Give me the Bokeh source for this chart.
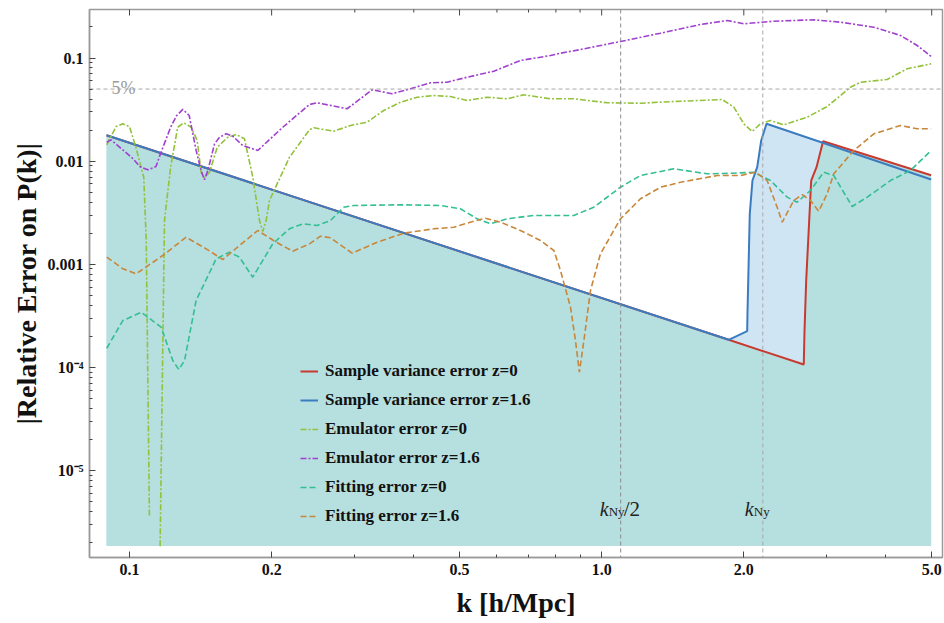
import numpy as np
from bokeh.plotting import figure
from bokeh.models import (Range1d, FixedTicker, CustomJSTickFormatter, Legend,
                          LegendItem, Span)
from bokeh.core.properties import value
from bokeh.embed import file_html
from bokeh.resources import INLINE

# ---------------- data ----------------
# Sample variance error z=0 (red) and z=1.6 (blue)
sv0_k = [0.0894, 1.858, 2.679, 2.689, 2.711, 2.778, 2.851, 2.944, 4.986]
sv0_err = [0.01783, 1.848e-4, 1.064e-4, 2.27e-4, 6.95e-4, 6.48e-3, 8.73e-3, 0.0156, 7.30e-3]
sv16_k = [0.0894, 1.858, 2.033, 2.036, 2.059, 2.086, 2.135, 2.177, 2.234, 4.986]
sv16_err = [0.01783, 1.848e-4, 2.24e-4, 3.30e-4, 3.08e-3, 6.48e-3, 8.73e-3, 0.01584, 0.023, 6.63e-3]

# Emulator error z=1.6 (purple)
emu16_k = [0.0895, 0.0914, 0.1016, 0.1051, 0.1093, 0.1138, 0.1163, 0.1222, 0.1259, 0.1297,
           0.1338, 0.1384, 0.1418, 0.1441, 0.1465, 0.1514, 0.1551, 0.1602, 0.1655, 0.1737,
           0.1869, 0.2112, 0.2405, 0.2497, 0.2891, 0.3266,
           0.3599, 0.3937, 0.4339, 0.4708, 0.5189, 0.5908, 0.673, 0.779, 0.818,
           0.902, 1.096, 1.332, 1.619, 1.845, 2.000, 2.315, 2.813, 3.204, 3.770,
           4.294, 4.658, 4.986]
emu16_err = [0.01525, 0.0161, 0.0106, 0.00887, 0.00823, 0.00887, 0.01177, 0.0213, 0.0277, 0.0317,
             0.0277, 0.01267, 0.0081, 0.00659, 0.0081, 0.01468, 0.01705, 0.0184, 0.01744, 0.01417,
             0.01267, 0.0213, 0.0354, 0.0368, 0.0322, 0.0492,
             0.0450, 0.0503, 0.0575, 0.0582, 0.0651, 0.0745, 0.0946, 0.1057, 0.1113,
             0.1209, 0.1445, 0.174, 0.2113, 0.2310, 0.2147, 0.2275, 0.2347, 0.2225, 0.199,
             0.1653, 0.1322, 0.1034]

# Emulator error z=0 (green); NaN = curve below the plotted range
emu0_k = [0.0895, 0.0937, 0.0968, 0.1000, 0.1033, 0.1072, 0.1085, 0.1102, np.nan, 0.1161,
          0.1186, 0.1222, 0.1265, 0.1303, 0.1351, 0.1391, 0.1418, 0.1441, 0.1477, 0.1534,
          0.1615, 0.1683, 0.1752, 0.1824, 0.1885, 0.1915, 0.1947,
          0.1979, 0.2182, 0.2405, 0.2456, 0.2708, 0.2938, 0.3186, 0.3455, 0.3749,
          0.4068, 0.4410, 0.4785, 0.5189, 0.5721, 0.6307, 0.684, 0.779, 0.873, 1.027,
          1.208, 1.421, 1.800, 1.905, 2.000, 2.083, 2.169, 2.278, 2.431, 2.724, 3.003,
          3.365, 3.532, 4.023, 4.436, 4.986]
emu0_err = [0.01439, 0.02165, 0.023, 0.02165, 0.0133, 0.00698, 0.0017, 3.65e-6, np.nan, 1.84e-6,
            0.00265, 0.00873, 0.0213, 0.0235, 0.0213, 0.01584, 0.0078, 0.00689, 0.0078, 0.01364,
            0.01705, 0.0181, 0.01646, 0.0070, 0.00265, 0.002076, 0.00265,
            0.00415, 0.01091, 0.0201, 0.02104, 0.0195, 0.02215, 0.02384, 0.03096, 0.03726,
            0.04166, 0.04327, 0.04231, 0.0387, 0.04166, 0.0402, 0.04395, 0.0402, 0.0402, 0.0368,
            0.03644, 0.03785, 0.03958, 0.03333, 0.023, 0.01937, 0.023, 0.02476, 0.02249, 0.02666,
            0.03385, 0.05209, 0.0582, 0.0619, 0.0786, 0.0878]

# Fitting error z=0 (teal)
fit0_k = [0.0895, 0.0968, 0.1059, 0.1167, 0.1235, 0.1272, 0.1308, 0.1384, 0.1526, 0.1628,
          0.171, 0.1824, 0.2011, 0.2182, 0.2328, 0.2497, 0.2665, 0.2843, 0.2985, 0.3749,
          0.4556, 0.5023, 0.5447, 0.5814, 0.6307, 0.718, 0.818, 0.873, 0.962, 1.096, 1.208,
          1.421, 1.673, 1.905, 2.099, 2.278, 2.471, 2.594, 2.768, 2.953, 3.101, 3.393,
          3.650, 4.089, 4.508, 4.986]
fit0_err = [1.531e-4, 2.84e-4, 3.42e-4, 2.448e-4, 1.164e-4, 9.52e-5, 1.164e-4, 4.45e-4,
            1.128e-3, 1.307e-3, 1.169e-3, 7.48e-4, 1.577e-3, 2.205e-3, 2.465e-3, 2.373e-3,
            2.654e-3, 3.57e-3, 3.71e-3, 3.77e-3, 3.71e-3, 3.45e-3, 2.756e-3, 2.465e-3,
            2.756e-3, 2.969e-3, 2.969e-3, 2.969e-3, 3.57e-3, 5.58e-3, 7.25e-3, 8.42e-3,
            7.53e-3, 7.63e-3, 7.80e-3, 6.48e-3, 4.47e-3, 3.99e-3, 5.19e-3, 7.80e-3, 7.25e-3,
            3.63e-3, 4.47e-3, 6.48e-3, 8.11e-3, 0.01267]

# Fitting error z=1.6 (orange)
fit16_k = [0.0895, 0.0968, 0.1033, 0.1176, 0.1318, 0.1453, 0.1576, 0.171, 0.1869, 0.2045,
           0.2218, 0.2405, 0.2538, 0.2665, 0.2962, 0.3346, 0.3810, 0.4410, 0.4863, 0.5273,
           0.5674, 0.6104, 0.673, 0.742, 0.792, 0.818, 0.859, 0.880, 0.897, 0.917, 0.947,
           0.994, 1.096, 1.208, 1.332, 1.469, 1.757, 1.968, 2.117, 2.241, 2.353, 2.412,
           2.552, 2.658, 2.768, 2.882, 3.003, 3.101, 3.420, 3.770, 4.294, 4.658, 4.986]
fit16_err = [1.169e-3, 9.03e-4, 8.07e-4, 1.214e-3, 1.827e-3, 1.41e-3, 1.11e-3, 1.518e-3,
             2.123e-3, 1.634e-3, 1.337e-3, 1.577e-3, 1.869e-3, 1.804e-3, 1.279e-3, 1.634e-3,
             2.0e-3, 2.205e-3, 2.285e-3, 2.555e-3, 2.794e-3, 2.555e-3, 2.123e-3, 1.698e-3,
             1.358e-3, 8.69e-4, 3.83e-4, 1.82e-4, 8.96e-5, 1.82e-4, 5.56e-4, 1.262e-3,
             2.756e-3, 4.31e-3, 5.58e-3, 6.24e-3, 7.25e-3, 7.25e-3, 7.80e-3, 6.48e-3,
             3.57e-3, 2.555e-3, 4.15e-3, 4.74e-3, 4.15e-3, 3.27e-3, 4.82e-3, 7.53e-3,
             0.01267, 0.0184, 0.02215, 0.02057, 0.02057]

fill_floor = 1.85e-6
five_percent = 0.05
k_nyquist = 2.194
k_nyquist_half = 1.097

legend_labels = ["Sample variance error z=0", "Sample variance error z=1.6",
                 "Emulator error z=0", "Emulator error z=1.6",
                 "Fitting error z=0", "Fitting error z=1.6"]

x_ticks = [0.1, 0.2, 0.5, 1.0, 2.0, 5.0]
x_tick_labels = ["0.1", "0.2", "0.5", "1.0", "2.0", "5.0"]
x_minor_ticks = [0.3, 0.4, 0.6, 0.7, 0.8, 0.9, 3.0, 4.0]
y_ticks = [1e-5, 1e-4, 1e-3, 1e-2, 1e-1]
y_tick_labels = ["10⁻⁵", "10⁻⁴", "0.001", "0.01", "0.1"]
y_minor_ticks = [m * 10.0 ** d for d in range(-6, 0) for m in range(2, 10)]

# ---------------- styles ----------------
SERIF = "Liberation Serif"
C_TEAL_FILL = "#b6dfdf"
C_BLUE_FILL = "#cfe5f4"
C_RED = "#c8392e"
C_BLUE = "#3b7cc0"
C_GREEN = "#93c23a"
C_PURPLE = "#a040d0"
C_TEALL = "#33bf93"
C_ORANGE = "#c8873a"
FRAME = "#9a9a9a"

y_lo, y_hi = 1.43e-6, 0.2954
x_lo, x_hi = 0.08228, 5.27

p = figure(width=944, height=623, x_axis_type="log", y_axis_type="log",
           x_range=Range1d(x_lo, x_hi), y_range=Range1d(y_lo, y_hi),
           output_backend="svg", toolbar_location=None,
           min_border_left=89, min_border_right=2, min_border_top=9,
           min_border_bottom=66)
p.xgrid.visible = False
p.ygrid.visible = False
p.outline_line_color = FRAME
p.outline_line_width = 1.5
p.background_fill_color = "white"
p.border_fill_color = "white"

fmt_code = """
let best = 0, bd = Infinity;
for (let i = 0; i < tv.length; i++) {
  const d = Math.abs(Math.log(tick) - Math.log(tv[i]));
  if (d < bd) { bd = d; best = i; }
}
return tl[best];
"""
p.xaxis.ticker = FixedTicker(ticks=x_ticks, minor_ticks=x_minor_ticks)
p.xaxis.formatter = CustomJSTickFormatter(args=dict(tv=x_ticks, tl=x_tick_labels), code=fmt_code)
p.yaxis.ticker = FixedTicker(ticks=y_ticks, minor_ticks=y_minor_ticks)
p.yaxis.formatter = CustomJSTickFormatter(args=dict(tv=y_ticks, tl=y_tick_labels), code=fmt_code)

p.xaxis.axis_label = "k [h/Mpc]"
p.yaxis.axis_label = "|Relative Error on P(k)|"
for ax in (p.xaxis[0], p.yaxis[0]):
    ax.axis_line_color = FRAME
    ax.axis_line_width = 1.5
    ax.major_tick_in = 6
    ax.major_tick_out = 0
    ax.minor_tick_in = 3
    ax.minor_tick_out = 0
    ax.major_tick_line_color = "#444444"
    ax.minor_tick_line_color = "#444444"
    ax.major_label_text_font = SERIF
    ax.major_label_text_font_style = "bold"
    ax.major_label_text_font_size = "16px"
    ax.major_label_text_color = "#111111"
    ax.axis_label_text_font = SERIF
    ax.axis_label_text_font_style = "bold"
    ax.axis_label_text_font_size = "28px"
    ax.axis_label_text_color = "#111111"
p.xaxis.major_label_standoff = 6
p.xaxis.axis_label_standoff = 9
p.yaxis.major_label_standoff = 6
p.yaxis.axis_label_standoff = 3

# fills
p.varea(x=sv16_k, y1=fill_floor, y2=sv16_err, fill_color=C_BLUE_FILL, fill_alpha=1.0)
p.varea(x=sv0_k, y1=fill_floor, y2=sv0_err, fill_color=C_TEAL_FILL, fill_alpha=1.0)

# guides
for loc, dim, col in ((five_percent, "width", "#a8a8a8"),
                      (k_nyquist_half, "height", "#8c8c8c"),
                      (k_nyquist, "height", "#a8a8a8")):
    p.add_layout(Span(location=loc, dimension=dim, line_color=col,
                      line_dash="4 3", line_width=1, level="glyph"))

# sample-variance lines
r_sv0 = p.line(sv0_k, sv0_err, line_color=C_RED, line_width=2)
r_sv16 = p.line(sv16_k, sv16_err, line_color=C_BLUE, line_width=2)

# error curves
r_emu0 = p.line(emu0_k, emu0_err, line_color=C_GREEN, line_width=1.6, line_dash="6 2 2 2")
r_emu16 = p.line(emu16_k, emu16_err, line_color=C_PURPLE, line_width=1.6, line_dash="6 2 2 2")
r_fit0 = p.line(fit0_k, fit0_err, line_color=C_TEALL, line_width=1.6, line_dash="6 3")
r_fit16 = p.line(fit16_k, fit16_err, line_color=C_ORANGE, line_width=1.6, line_dash="6 3")

# frame ticks on top edge
p.scatter(x=x_ticks, y=[y_hi] * len(x_ticks), marker="dash", angle=np.pi / 2,
          size=12, line_color="#444444", line_width=1)
p.scatter(x=x_minor_ticks, y=[y_hi] * len(x_minor_ticks), marker="dash", angle=np.pi / 2,
          size=6, line_color="#444444", line_width=1)

# texts
p.text(x=[0.0916], y=[five_percent], text=["5%"], text_font=value(SERIF),
       text_font_size="18px", text_color="#9a9a9a", text_baseline="alphabetic",
       y_offset=-1)
label_y = 4.24e-6
for kk, dx_k, dx_sub, sub, tail in ((k_nyquist_half, -21, -12, "Ny", "/2"),
                                    (k_nyquist, -18, -9, "Ny", "")):
    p.text(x=[kk], y=[label_y], text=["k"], text_font=value(SERIF), text_font_style="italic",
           text_font_size="20px", text_color="#222222", text_baseline="alphabetic",
           x_offset=dx_k)
    p.text(x=[kk], y=[label_y], text=[sub], text_font=value(SERIF),
           text_font_size="13px", text_color="#222222", text_baseline="alphabetic",
           x_offset=dx_sub, y_offset=3)
    if tail:
        p.text(x=[kk], y=[label_y], text=[tail], text_font=value(SERIF),
               text_font_size="21px", text_color="#222222", text_baseline="alphabetic",
               x_offset=dx_sub + 15)

legend = Legend(items=[LegendItem(label=lab, renderers=[r]) for lab, r in
                       zip(legend_labels, [r_sv0, r_sv16, r_emu0, r_emu16, r_fit0, r_fit16])],
                location=(211, 31), background_fill_alpha=0, border_line_alpha=0,
                padding=0, margin=0, spacing=9, label_height=20, glyph_height=20,
                glyph_width=18, label_standoff=7, label_text_font=SERIF,
                label_text_font_size="17px", label_text_font_style="bold",
                label_text_color="#111111")
p.add_layout(legend)

open("out.html", "w").write(file_html(p, INLINE))
